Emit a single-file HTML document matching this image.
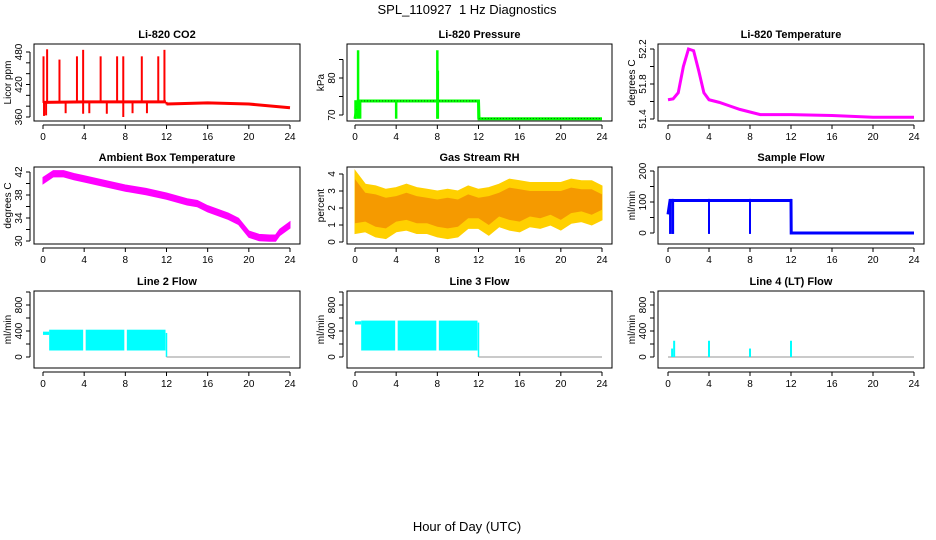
<!DOCTYPE html>
<html><head><meta charset="utf-8"><style>
html,body{margin:0;padding:0;background:#fff}
svg{display:block;font-family:"Liberation Sans",sans-serif}
</style></head><body>
<svg id="chart" width="936" height="540" viewBox="0 0 936 540">
<text x="467" y="14" text-anchor="middle" font-size="13">SPL_110927&#160; 1 Hz Diagnostics</text>
<text x="467" y="531" text-anchor="middle" font-size="13">Hour of Day (UTC)</text>
</svg>
<script>
// ---- data ----
const xTicks = [0,4,8,12,16,20,24];
const co2BaseHours = [0,4,8,12,16,20,24];
const co2BaseVals = [387,388,388,384,386,384,377];
const co2SpikeHours = [0.05,0.4,1.6,3.3,3.9,5.6,7.2,7.8,9.6,11.2,11.8];
const co2SpikeTops = [472,485,466,472,484,472,472,472,472,472,484];
const co2DipHours = [0.1,0.3,2.2,3.9,4.5,6.2,7.8,8.7,10.1];
const co2DipVals = [362,363,367,366,367,366,360,367,367];
const presHours = [0,0.3,0.5,12,12.05,24];
const presVals = [69,73.8,73.8,73.8,69,69];
const presSpikeHours = [0.05,0.3,0.5,4,8,8.05,12];
const presSpikeTops = [74,87.5,74,74,87.5,82,74];
const presSpikeBots = [69,69,69,69,69,69,69];
const tempHours = [0,0.5,1,1.5,2,2.5,3,3.5,4,5,6,7,8,9,12,16,20,24];
const tempVals = [51.62,51.63,51.7,52.0,52.2,52.18,51.95,51.7,51.62,51.59,51.55,51.51,51.48,51.45,51.45,51.44,51.42,51.42];
const ambHours = [0,1,2,3,4,6,8,10,12,14,15,16,18,19,20,21,22,22.6,23,24];
const ambVals = [40.5,41.7,41.7,41.2,40.8,40,39.2,38.6,37.8,36.8,36.5,35.6,34.3,33.4,31.2,30.6,30.5,30.5,31.5,32.8];
const rhHours = [0,1,2,3,4,5,6,7,8,9,10,11,12,13,14,15,16,17,18,19,20,21,22,23,24];
const rhLow = [0.5,0.6,0.3,0.2,0.6,0.7,0.5,0.5,0.3,0.2,0.3,0.8,0.8,0.4,0.9,0.7,0.6,0.9,0.8,1.0,0.7,1.1,1.2,1.0,1.3];
const rhHigh = [4.2,3.4,3.3,3.1,3.2,3.4,3.2,3.1,3.0,3.1,3.0,3.3,3.1,3.2,3.4,3.7,3.6,3.5,3.5,3.5,3.5,3.7,3.6,3.6,3.3];
const sfHours = [0,0.2,0.5,12,12.02,24];
const sfVals = [60,105,105,105,0,0];
const sfDipHours = [0.2,0.4,0.5,4,8,12];
const l2Band = [0.6,12];
const l2Low = 100, l2High = 420, l2Pre = 370;
const l3Low = 100, l3High = 560, l3Pre = 530;
const bandGaps = [4,8];
const l4Hours = [0.4,0.6,4,8,12];
const l4Tops = [130,250,250,130,250];

// ---- layout ----
const cols = [{l:34,r:300,x0:43,x1:290},{l:347,r:612,x0:355,x1:602},{l:658,r:924,x0:668,x1:914}];
const rows = [{t:44,b:121},{t:167,b:244},{t:291,b:368}];
const svg = document.getElementById('chart');
const NS='http://www.w3.org/2000/svg';
function mk(tag, attrs, parent){const e=document.createElementNS(NS,tag);for(const k in attrs)e.setAttribute(k,attrs[k]);(parent||svg).appendChild(e);return e;}

function panel(ci, ri, title, ylab, ymin, ymax, yMinPx, yMaxPx, ticks, labeled, name){
  const c=cols[ci], r=rows[ri];
  const g=mk('g',{});
  
  
  const sx=h=>c.x0+(c.x1-c.x0)*h/24;
  const sy=v=>yMinPx+(yMaxPx-yMinPx)*(v-ymin)/(ymax-ymin);
  const t=mk('text',{x:(c.l+c.r)/2,y:r.t-6,'text-anchor':'middle','font-size':11,'font-weight':'bold'},g);
  t.textContent=title;
  
  
  const plot=mk('g',{},g);
  const xa=mk('g',{},g);
  
  
  const yb=r.b+4;
  mk('line',{x1:sx(0),x2:sx(24),y1:yb,y2:yb,stroke:'#000'},xa);
  xTicks.forEach(h=>{mk('line',{x1:sx(h),x2:sx(h),y1:yb,y2:yb+4,stroke:'#000'},xa);
    const tx=mk('text',{x:sx(h),y:yb+15,'text-anchor':'middle','font-size':10},xa);tx.textContent=h;});
  const ya=mk('g',{},g);
  
  
  const xl=c.l-4;
  mk('line',{x1:xl,x2:xl,y1:sy(ticks[0]),y2:sy(ticks[ticks.length-1]),stroke:'#000'},ya);
  ticks.forEach(v=>{mk('line',{x1:xl-4,x2:xl,y1:sy(v),y2:sy(v),stroke:'#000'},ya);
    if(labeled.includes(v)){const tx=mk('text',{x:xl-8,y:sy(v),'text-anchor':'middle','font-size':10,transform:`rotate(-90 ${xl-8} ${sy(v)})`},ya);tx.textContent=v;}});
  const yl=mk('text',{x:c.l-23,y:(r.t+r.b)/2,'text-anchor':'middle','font-size':10,transform:`rotate(-90 ${c.l-23} ${(r.t+r.b)/2})`},ya);
  yl.textContent=ylab;
  
  
  mk('rect',{x:c.l,y:r.t,width:c.r-c.l,height:r.b-r.t,fill:'none',stroke:'#000'},g);
  return {sx,sy,plot};
}
function poly(p,hs,vs,col,w){return mk('polyline',{points:hs.map((h,i)=>p.sx(h)+','+p.sy(vs[i])).join(' '),fill:'none',stroke:col,'stroke-width':w},p.plot);}
function vline(p,h,v1,v2,col,w){return mk('line',{x1:p.sx(h),x2:p.sx(h),y1:p.sy(v1),y2:p.sy(v2),stroke:col,'stroke-width':w},p.plot);}

// CO2
let p=panel(0,0,'Li-820 CO2','Licor ppm',360,480,117,52,[360,380,400,420,440,460,480],[360,420,480],'co2');
let s=poly(p,co2BaseHours.slice(0,3).concat([11.95]),co2BaseVals.slice(0,3).concat([388]),'#f00',3);

s=poly(p,[12].concat(co2BaseHours.slice(3)),[384].concat(co2BaseVals.slice(3)),'#f00',3);

co2SpikeHours.forEach((h,i)=>{const e=vline(p,h,386,co2SpikeTops[i],'#f00',2);});
co2DipHours.forEach((h,i)=>{const e=vline(p,h,386,co2DipVals[i],'#f00',2);});
vline(p,12,388,383,'#f00',2);

// Pressure
p=panel(1,0,'Li-820 Pressure','kPa',70,80,115,78,[70,75,80,85],[70,80],'pressure');
s=poly(p,presHours,presVals,'#0f0',3);

poly(p,presHours,presVals,'#000',0.6).setAttribute('stroke-dasharray','1 2');
presSpikeHours.forEach((h,i)=>{const e=vline(p,h,presSpikeBots[i],presSpikeTops[i],'#0f0',2.5);});

// Li-820 temperature
p=panel(2,0,'Li-820 Temperature','degrees C',51.4,52.2,119,49,[51.4,51.6,51.8,52.0,52.2],[51.4,51.8,52.2],'li820-temp');
s=poly(p,tempHours,tempVals,'#f0f',3);


// Ambient
p=panel(0,1,'Ambient Box Temperature','degrees C',30,42,241,172,[30,32,34,36,38,40,42],[30,34,38,42],'ambient-temp');
s=mk('polygon',{points:ambHours.map((h,i)=>p.sx(h)+','+p.sy(ambVals[i]+0.55)).concat(ambHours.slice().reverse().map((h,i)=>p.sx(h)+','+p.sy(ambVals[ambVals.length-1-i]-0.55))).join(' '),fill:'#f0f',stroke:'#f0f','stroke-width':1},p.plot);


// RH
p=panel(1,1,'Gas Stream RH','percent',0,4,242,174,[0,1,2,3,4],[0,1,2,3,4],'rh');
s=mk('polygon',{points:rhHours.map((h,i)=>p.sx(h)+','+p.sy(rhHigh[i])).concat(rhHours.slice().reverse().map((h,i)=>p.sx(h)+','+p.sy(rhLow[rhLow.length-1-i]))).join(' '),fill:'#ffd000',stroke:'#ffd000','stroke-width':1},p.plot);

s=mk('polygon',{points:rhHours.map((h,i)=>p.sx(h)+','+p.sy(rhHigh[i]-0.5)).concat(rhHours.slice().reverse().map((h,i)=>p.sx(h)+','+p.sy(rhLow[rhLow.length-1-i]+0.6))).join(' '),fill:'#f59a00',stroke:'none'},p.plot);


// Sample flow
p=panel(2,1,'Sample Flow','ml/min',0,200,233,171,[0,50,100,150,200],[0,100,200],'sample-flow');
s=poly(p,sfHours,sfVals,'#00f',3);

sfDipHours.forEach(h=>{const e=vline(p,h,110,-3,'#00f',2);});

// Line flows
function flowBand(p,lo,hi,pre,name){
  const segs=[l2Band[0]].concat(bandGaps,[l2Band[1]]);
  mk('rect',{x:p.sx(0),y:p.sy(pre+20),width:p.sx(l2Band[0])-p.sx(0),height:p.sy(pre-30)-p.sy(pre+20),fill:'#0ff'},p.plot);
  for(let i=0;i<segs.length-1;i++){
    const e=mk('rect',{x:p.sx(segs[i])+(i?1.5:0),y:p.sy(hi),width:p.sx(segs[i+1])-p.sx(segs[i])-(i?1.5:0)-1,height:p.sy(lo)-p.sy(hi),fill:'#0ff'},p.plot);
    
    
  }
  vline(p,12,pre,0,'#0ff',1.5);
  poly(p,[12,24],[0,0],'#aaa',1.2);
}
const flowTicks=[0,200,400,600,800,1000];
p=panel(0,2,'Line 2 Flow','ml/min',0,800,357,305,flowTicks,[0,400,800],'line2-flow');
flowBand(p,l2Low,l2High,l2Pre,'line2-flow');
p=panel(1,2,'Line 3 Flow','ml/min',0,800,357,305,flowTicks,[0,400,800],'line3-flow');
flowBand(p,l3Low,l3High,l3Pre,'line3-flow');
p=panel(2,2,'Line 4 (LT) Flow','ml/min',0,800,357,305,flowTicks,[0,400,800],'line4-flow');
poly(p,[0,24],[0,0],'#aaa',1.2);
l4Hours.forEach((h,i)=>{const e=vline(p,h,0,l4Tops[i],'#0ff',2);});
</script>
</body></html>
